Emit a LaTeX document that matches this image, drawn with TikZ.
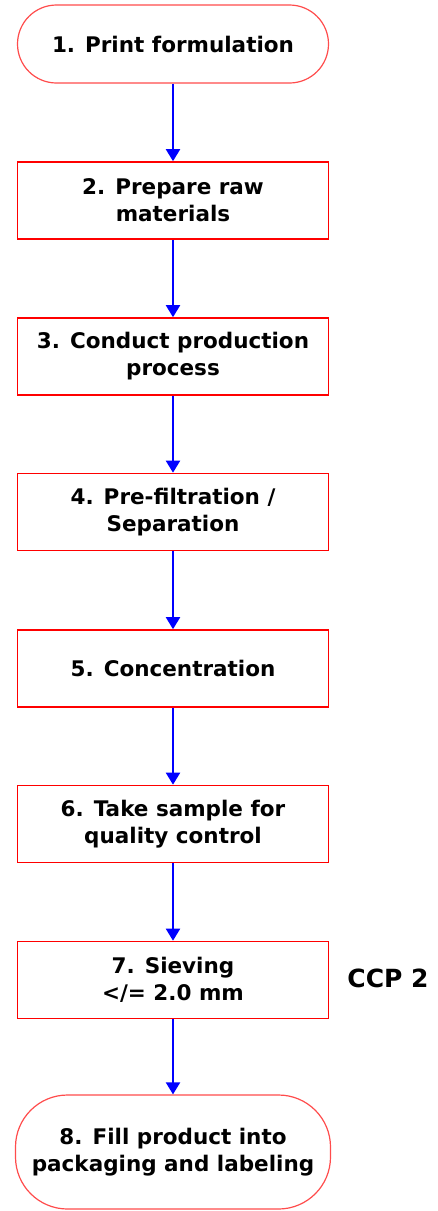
\documentclass[tikz,border=0pt]{standalone}
\usepackage{fontspec}
\setmainfont{DejaVu Sans}
\usetikzlibrary{arrows.meta}
\begin{document}
\begin{tikzpicture}[x=1pt,y=-1pt,
  box/.style={draw=red, line width=1.6pt, fill=white, minimum width=311pt,
    minimum height=77pt, align=center, inner sep=0pt,
    font=\bfseries\fontsize{21.5}{27}\selectfont},
  term/.style={box, draw=red!70, line width=1.2pt, rounded corners=39pt},
  flow/.style={color=blue, line width=2pt, -{Triangle[width=14pt,length=12pt]}}]
\useasboundingbox (0,0) rectangle (438,1211);
\node[term, minimum height=78pt] (n1) at (173,44) {1. Print formulation};
\node[box] (n2) at (173,200.5) {2. Prepare raw\\materials};
\node[box] (n3) at (173,356.5) {3. Conduct production\\process};
\node[box] (n4) at (173,512) {4. Pre-filtration /\\Separation};
\node[box] (n5) at (173,668.5) {5. Concentration};
\node[box] (n6) at (173,824) {6. Take sample for\\quality control};
\node[box] (n7) at (173,980) {7. Sieving\\\textless/= 2.0 mm};
\node[term, minimum width=315pt, minimum height=114pt, rounded corners=52pt] (n8) at (173,1152) {8. Fill product into\\packaging and labeling};
\node[font=\bfseries\fontsize{25}{30}\selectfont, anchor=center] (ccp) at (388,978) {CCP 2};
\draw[flow] (n1) -- (n2);
\draw[flow] (n2) -- (n3);
\draw[flow] (n3) -- (n4);
\draw[flow] (n4) -- (n5);
\draw[flow] (n5) -- (n6);
\draw[flow] (n6) -- (n7);
\draw[flow] (n7) -- (n8);
\end{tikzpicture}
\end{document}
